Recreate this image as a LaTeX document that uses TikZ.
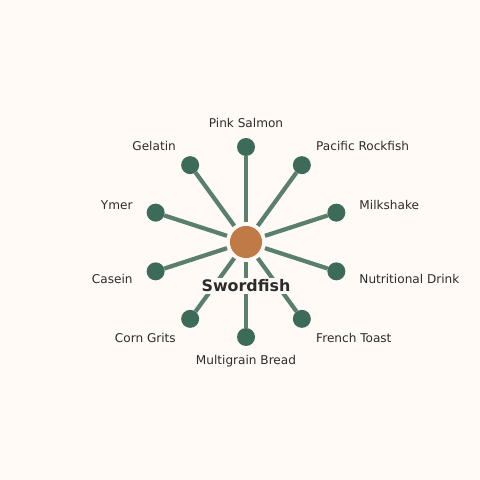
\documentclass[tikz,border=0pt]{standalone}
\usepackage{fontspec}
\setmainfont{DejaVu Sans}
\usetikzlibrary{positioning}
\definecolor{paper}{HTML}{FFFAF6}
\definecolor{spoke}{HTML}{5A7F6F}
\definecolor{leaf}{HTML}{3D6B5A}
\definecolor{hub}{HTML}{C07A48}
\definecolor{ink}{HTML}{2B2B2B}

\begin{document}
\begin{tikzpicture}[x=0.025cm, y=0.025cm,
  hubnode/.style = {circle, fill=hub, minimum size=22.8pt, inner sep=0pt, outer sep=2.8pt},
  leafnode/.style = {circle, fill=leaf, minimum size=12.8pt, inner sep=0pt, outer sep=0pt},
  leaflabel/.style = {font=\fontsize{8.6}{10}\selectfont, text=ink, inner sep=0pt},
  spokeline/.style = {draw=spoke, line width=3pt},
  ]
  \fill[paper] (0,0) rectangle (480,480);
  \useasboundingbox (0,0) rectangle (480,480);
  \node [hubnode] (hub) at (246,238) {};
  % leaves round the hub
  \foreach \i/\ang/\anc/\txt in {1/90/center/Pink Salmon, 2/54/west/Pacific Rockfish,
      3/18/west/Milkshake, 4/-18/west/Nutritional Drink, 5/-54/west/French Toast,
      6/-90/center/Multigrain Bread, 7/-126/east/Corn Grits, 8/-162/east/Casein,
      9/162/east/Ymer, 10/126/east/Gelatin}
  {
    \node [leafnode] (leaf\i) at ([shift={(\ang:95)}]hub.center) {};
    \draw [spokeline] (hub) -- (leaf\i);
    \node [leaflabel, anchor=\anc] (lab\i) at ([shift={(\ang:119)}]hub.center) {\txt};
  }
  \node [font=\fontsize{11.3}{13}\selectfont\bfseries, text=ink, fill=paper, inner sep=1.5pt] (name) at (246,194) {Swordfish};
\end{tikzpicture}
\end{document}
